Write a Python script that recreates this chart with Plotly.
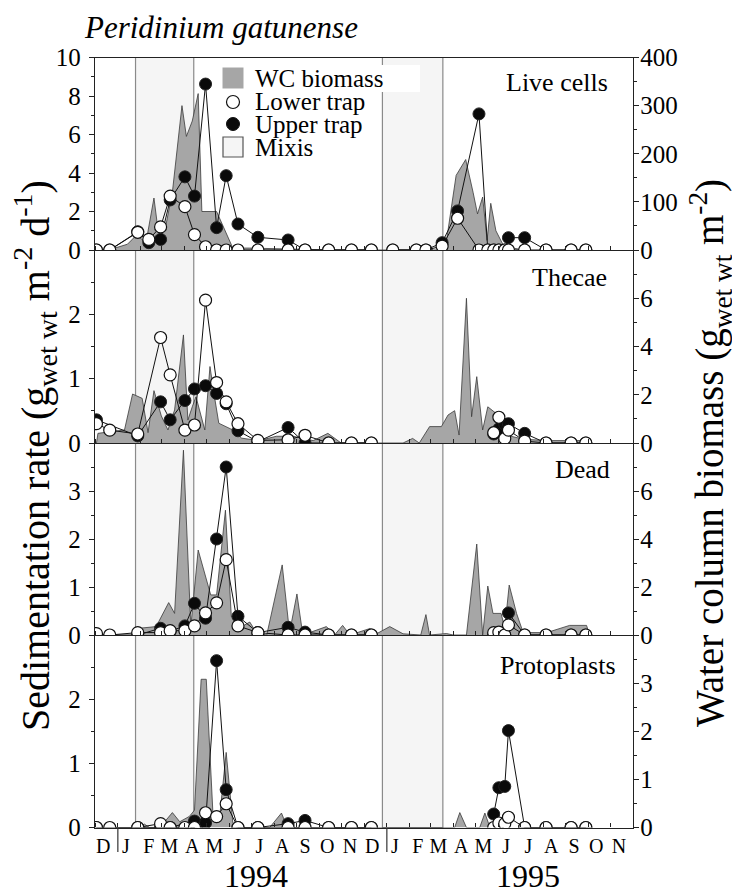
import plotly.graph_objects as go

FONT = "Liberation Serif, Times New Roman, Times, serif"

# ---------------- data ----------------
trap_dates = [
    "1993-12-03", "1993-12-21", "1994-01-28", "1994-02-12", "1994-02-28", "1994-03-13",
    "1994-04-02", "1994-04-15", "1994-04-30", "1994-05-15", "1994-05-28", "1994-06-13",
    "1994-07-10", "1994-08-20", "1994-09-12", "1994-10-14", "1994-11-14", "1994-12-11",
    "1995-01-09", "1995-02-10", "1995-02-23", "1995-03-17", "1995-04-07", "1995-05-06",
    "1995-05-18", "1995-05-26", "1995-06-02", "1995-06-10", "1995-06-15", "1995-07-07",
    "1995-08-05", "1995-09-08", "1995-09-28",
]
N = None
# Live cells (sedimentation rate)
live_lower = [0, 0, 0.92, 0.55, 1.2, 2.8, 2.25, 0.8, 0.17, 0, 0, 0, 0, 0, 0, 0, 0, 0,
              0, 0, 0, 0.2, 1.65, 0, 0, 0, 0, 0, 0, 0, 0, 0, 0]
live_upper = [0, 0, 0.95, 0.38, 0.55, 2.6, 3.8, 2.8, 8.62, 1.16, 3.86, 1.35, 0.66, 0.52, 0, 0, 0, 0,
              0, 0, 0, 0.38, 2.03, 7.07, 0, 0, 0, 0, 0.64, 0.64, 0, 0, 0]
# Thecae
thecae_lower = [0.30, 0.20, 0.14, N, 1.64, 1.06, 0.20, 0.28, 2.22, 0.94, 0.64, 0.30, 0.04, 0.05, 0.12, 0, 0, 0,
                N, N, N, N, N, N, N, 0.16, 0.40, 0.07, 0.20, 0.03, 0, 0, 0]
thecae_upper = [0.36, N, 0.11, N, 0.64, 0.36, 0.66, 0.84, 0.89, 0.77, 0.61, 0.19, 0.02, 0.24, 0, 0, 0, 0,
                N, N, N, N, N, N, N, 0.14, 0.22, 0.29, 0.30, 0.15, 0, 0, 0]
# Dead
dead_lower = [0.03, 0, 0.05, N, 0.05, 0.09, 0.09, 0.19, 0.46, 0.67, 1.57, 0.19, 0.05, 0, 0, 0, 0, 0,
              N, N, N, N, N, N, N, 0.05, 0.06, 0, 0.21, 0, 0, 0, 0]
dead_upper = [0, N, 0, N, 0.14, 0.08, 0.19, 0.66, 0.35, 2.0, 3.5, 0.39, 0.05, 0.16, 0.06, 0, 0, 0,
              N, N, N, N, N, N, N, 0, 0, 0, 0.46, 0, 0, 0, 0]
# Protoplasts
proto_lower = [0, 0, 0, N, 0.06, 0, 0, 0, 0.23, 0.17, 0.37, 0, 0, 0, 0, 0, 0, 0,
               N, N, N, N, N, N, N, 0, 0.07, 0.06, 0.16, 0, 0, 0, 0]
proto_upper = [0, N, 0, N, 0, 0, N, 0.10, 0.07, 2.6, 0.59, 0, 0, 0.06, 0.11, 0, 0, 0,
               N, N, N, N, N, N, N, 0.21, 0.62, 0.64, 1.51, 0, 0, 0, 0]
N_1994 = 18  # the first 18 sampling dates belong to the 1994 season

# Water column biomass (right axis)
live_bio_dates = ["1993-12-03", "1993-12-28", "1994-01-14", "1994-01-27", "1994-02-08", "1994-02-19",
                  "1994-02-25", "1994-03-07", "1994-03-16", "1994-03-29", "1994-04-04", "1994-04-12",
                  "1994-04-20", "1994-04-25", "1994-05-15", "1994-06-06", "1994-06-29", "1994-07-26",
                  "1994-09-05", "1994-10-16", "1995-03-14", "1995-03-23", "1995-04-05", "1995-04-18",
                  "1995-04-28", "1995-05-04", "1995-05-11", "1995-05-17", "1995-05-22", "1995-05-29",
                  "1995-06-08", "1995-06-17", "1995-07-07"]
live_bio = [0, 4, 12, 32, 14, 108, 36, 50, 120, 300, 236, 268, 325, 80, 80, 4, 4, 3, 3, 0,
            0, 20, 155, 188, 120, 75, 110, 20, 97, 40, 10, 5, 0]

thecae_bio_dates = ["1993-12-03", "1993-12-05", "1994-01-10", "1994-01-21", "1994-02-03", "1994-02-11",
                    "1994-02-19", "1994-03-01", "1994-03-10", "1994-03-19", "1994-03-31", "1994-04-06",
                    "1994-04-12", "1994-04-17", "1994-04-29", "1994-05-06", "1994-05-11", "1994-05-18",
                    "1994-06-06", "1994-06-18", "1994-07-12", "1994-08-04", "1994-08-27", "1994-09-23",
                    "1994-10-13", "1994-10-31", "1995-01-23", "1995-01-30", "1995-02-05", "1995-02-14",
                    "1995-02-28", "1995-03-16", "1995-03-25", "1995-04-03", "1995-04-09", "1995-04-19",
                    "1995-04-26", "1995-05-03", "1995-05-11", "1995-05-18", "1995-06-01", "1995-06-08",
                    "1995-06-17", "1995-07-05", "1995-08-06", "1995-09-08", "1995-09-29", "1995-10-03"]
thecae_bio = [0, 0.4, 0.54, 2.03, 1.85, 0.43, 2.17, 1.12, 0.54, 1.37, 4.48, 0.95, 1.5, 1.92, 0.54,
              3.17, 2.13, 0.82, 0.54, 0.2, 0.1, 0.28, 0.28, 0.1, 0.4, 0, 0, 0.12, 0.19, 0, 0.68, 0.68,
              1.16, 1.34, 0.33, 6.0, 1.09, 2.75, 0.54, 1.5, 1.16, 0.68, 0.29, 0.16, 0.1, 0.1, 0.1, 0]

dead_bio_dates = ["1994-01-24", "1994-01-26", "1994-02-02", "1994-02-22", "1994-03-11", "1994-03-19",
                  "1994-03-31", "1994-04-10", "1994-04-20", "1994-05-01", "1994-05-07", "1994-05-15",
                  "1994-05-27", "1994-06-04", "1994-06-18", "1994-06-29", "1994-07-08", "1994-07-22",
                  "1994-08-12", "1994-08-22", "1994-09-01", "1994-09-09", "1994-10-11", "1994-10-22",
                  "1994-11-02", "1994-11-12", "1994-12-09", "1994-12-18", "1995-01-05", "1995-01-23",
                  "1995-02-16", "1995-02-23", "1995-02-28", "1995-03-23", "1995-04-01", "1995-04-19",
                  "1995-05-03", "1995-05-11", "1995-05-18", "1995-05-25", "1995-06-05", "1995-06-10",
                  "1995-06-16", "1995-06-26", "1995-07-05", "1995-08-06", "1995-09-06", "1995-09-29",
                  "1995-10-03"]
dead_bio = [0, 0.1, 0.29, 0.35, 1.35, 0.9, 7.7, 0.35, 3.54, 2.29, 1.67, 1.67, 5.2, 0.76, 0.35, 0.54,
            0.1, 0, 2.92, 0.1, 1.71, 0, 0.35, 0, 0.4, 0, 0.27, 0.05, 0.35, 0.05, 0, 0.85, 0, 0.06, 0,
            0, 3.79, 0, 2.04, 0.9, 0.9, 0.29, 2.08, 0.9, 0.1, 0.1, 0.4, 0.4, 0]

proto_bio_dates = ["1994-01-28", "1994-02-06", "1994-02-13", "1994-02-27", "1994-03-16", "1994-03-26",
                   "1994-04-08", "1994-04-15", "1994-04-24", "1994-05-01", "1994-05-10", "1994-05-19",
                   "1994-05-28", "1994-06-06", "1994-06-11", "1994-07-26", "1994-08-11", "1994-08-19",
                   "1995-04-03", "1995-04-10", "1995-04-19", "1995-05-07", "1995-05-14", "1995-05-21"]
proto_bio = [0, 0.07, 0, 0, 0.31, 0.12, 0.23, 0.36, 3.08, 3.08, 0.3, 0.2, 1.56, 0.1, 0, 0, 0.3, 0,
             0, 0.31, 0, 0, 0.3, 0]

panel_names = ["Live cells", "Thecae", "Dead", "Protoplasts"]
legend_names = ["WC biomass", "Lower trap", "Upper trap", "Mixis"]
mixis_start = ["1994-01-25", "1994-12-26"]
mixis_end = ["1994-04-14", "1995-03-18"]
year_starts = ["1994-01-01", "1995-01-01"]
year_labels = ["1994", "1995"]
year_label_dates = ["1994-07-08", "1995-07-12"]
month_letters = ["D", "J", "F", "M", "A", "M", "J", "J", "A", "S", "O", "N",
                 "D", "J", "F", "M", "A", "M", "J", "J", "A", "S", "O", "N"]
month_label_dates = ["1993-12-12"] + [f"1994-{m:02d}-12" for m in range(1, 13)] + \
                    [f"1995-{m:02d}-12" for m in range(1, 12)]

left_ranges = [[0, 10], [0, 3], [0, 4], [0, 3]]
left_ticks = [[0, 2, 4, 6, 8, 10], [0, 1, 2], [0, 1, 2, 3], [0, 1, 2]]
left_minor = [[1, 3, 5, 7, 9], [0.5, 1.5, 2.5], [0.5, 1.5, 2.5, 3.5], [0.5, 1.5, 2.5]]
right_ranges = [[0, 400], [0, 8], [0, 8], [0, 4]]
right_ticks = [[0, 100, 200, 300, 400], [0, 2, 4, 6], [0, 2, 4, 6], [0, 1, 2, 3]]
right_minor = [[50, 150, 250, 350], [1, 3, 5, 7], [1, 3, 5, 7], [0.5, 1.5, 2.5, 3.5]]

bio_x = [live_bio_dates, thecae_bio_dates, dead_bio_dates, proto_bio_dates]
bio_y = [live_bio, thecae_bio, dead_bio, proto_bio]
lower_y = [live_lower, thecae_lower, dead_lower, proto_lower]
upper_y = [live_upper, thecae_upper, dead_upper, proto_upper]

# ---------------- geometry (page pixels; the page body adds an 8px offset) ----------------
OFF = 8
W, H = 740 - OFF, 894 - OFF


def px(x):
    return (x - OFF) / W


def py(y):
    return 1 - (y - OFF) / H


xdom = [px(95), px(633)]
pix = [57.5, 250, 443, 635, 827.5]
ydoms = [[py(pix[i + 1]), py(pix[i])] for i in range(4)]

AX = "#222222"
fig = go.Figure()

for i in range(4):
    k = i + 1
    xa = "x" if k == 1 else f"x{k}"
    yb = "y" if k == 1 else f"y{k}"
    yo = f"y{k + 4}"
    fig.add_trace(go.Scatter(
        x=bio_x[i], y=bio_y[i], xaxis=xa, yaxis=yb, mode="lines",
        fill="tozeroy", fillcolor="#a6a6a6", line=dict(color="#3a3a3a", width=0.8),
        showlegend=False, name="WC biomass"))
    for seg in (slice(0, N_1994), slice(N_1994, None)):
        fig.add_trace(go.Scatter(
            x=trap_dates[seg], y=upper_y[i][seg], xaxis=xa, yaxis=yo, mode="lines+markers",
            connectgaps=True, line=dict(color="#111111", width=1),
            marker=dict(symbol="circle", size=12, color="#0a0a0a", line=dict(color="#222", width=1)),
            showlegend=False, name="Upper trap"))
    for seg in (slice(0, N_1994), slice(N_1994, None)):
        fig.add_trace(go.Scatter(
            x=trap_dates[seg], y=lower_y[i][seg], xaxis=xa, yaxis=yo, mode="lines+markers",
            connectgaps=True, line=dict(color="#111111", width=1),
            marker=dict(symbol="circle", size=12, color="white", line=dict(color="#111", width=1.2)),
            showlegend=False, name="Lower trap"))

layout = dict(
    template="none",
    width=W, height=H, margin=dict(l=0, r=0, t=0, b=0, autoexpand=False),
    paper_bgcolor="white", plot_bgcolor="rgba(0,0,0,0)",
    font=dict(family=FONT, size=24, color="black"),
    showlegend=False,
)

for i in range(4):
    k = i + 1
    xkey = "xaxis" if k == 1 else f"xaxis{k}"
    ykey = "yaxis" if k == 1 else f"yaxis{k}"
    okey = f"yaxis{k + 4}"
    xa = dict(domain=xdom, type="date", range=["1993-12-01", "1995-12-01"],
              anchor="y" if k == 1 else f"y{k}", automargin=False,
              showline=True, linecolor=AX, linewidth=1.3, showgrid=False, zeroline=False,
              ticks="", minor=dict(ticks="inside", ticklen=4, dtick="M1", tick0="1993-12-01",
                                   tickcolor=AX, showgrid=False))
    if k != 1:
        xa["matches"] = "x"
    if k == 1:
        xa["mirror"] = True
    if k == 4:
        xa.update(tickmode="array", tickvals=month_label_dates, ticktext=month_letters,
                  showticklabels=True, tickfont=dict(family=FONT, size=20, color="black"))
    else:
        xa["showticklabels"] = False
    layout[xkey] = xa
    layout[ykey] = dict(domain=ydoms[i], anchor="x" if k == 1 else f"x{k}", side="right",
                        automargin=False,
                        range=right_ranges[i], tickmode="array", tickvals=right_ticks[i],
                        ticks="outside", ticklen=5, tickcolor=AX, showline=True,
                        linecolor=AX, linewidth=1.3, showgrid=False, zeroline=False,
                        ticklabelstandoff=-4,
                        tickfont=dict(family=FONT, size=25, color="black"),
                        minor=dict(tickvals=right_minor[i], ticks="outside", ticklen=3,
                                   tickcolor=AX, showgrid=False))
    layout[okey] = dict(overlaying="y" if k == 1 else f"y{k}", anchor="x" if k == 1 else f"x{k}",
                        side="left", automargin=False,
                        range=left_ranges[i], tickmode="array",
                        tickvals=left_ticks[i], ticks="outside", ticklen=5, tickcolor=AX,
                        showline=True, linecolor=AX, linewidth=1.3, showgrid=False,
                        zeroline=False, ticklabelstandoff=3,
                        tickfont=dict(family=FONT, size=25, color="black"),
                        minor=dict(tickvals=left_minor[i], ticks="outside", ticklen=3,
                                   tickcolor=AX, showgrid=False))

fig.update_layout(**layout)

# mixis periods
for s, e in zip(mixis_start, mixis_end):
    fig.add_shape(type="rect", xref="x", yref="paper", x0=s, x1=e,
                  y0=ydoms[3][0], y1=ydoms[0][1], fillcolor="#f5f5f5",
                  line=dict(color="#8a8a8a", width=1.2), layer="below")
# year boundary marks below the month axis
for d in year_starts:
    fig.add_shape(type="line", xref="x4", yref="paper", x0=d, x1=d,
                  y0=py(828), y1=py(852), line=dict(color="#333", width=1.2))

# legend (drawn in the upper panel)
fig.add_shape(type="rect", xref="paper", yref="paper", x0=px(250), x1=px(420),
              y0=py(92), y1=py(65), fillcolor="white", line=dict(width=0), layer="below")
leg_rows = [78, 102, 124, 147]
leg_x = 233
fig.add_shape(type="rect", xref="paper", yref="paper", x0=px(leg_x - 10.5), x1=px(leg_x + 10.5),
              y0=py(leg_rows[0] + 10.5), y1=py(leg_rows[0] - 10.5), fillcolor="#a6a6a6",
              line=dict(width=0))
fig.add_shape(type="circle", xref="paper", yref="paper", x0=px(leg_x - 6.5), x1=px(leg_x + 6.5),
              y0=py(leg_rows[1] + 6.5), y1=py(leg_rows[1] - 6.5), fillcolor="white",
              line=dict(color="#111", width=1.2))
fig.add_shape(type="circle", xref="paper", yref="paper", x0=px(leg_x - 6.5), x1=px(leg_x + 6.5),
              y0=py(leg_rows[2] + 6.5), y1=py(leg_rows[2] - 6.5), fillcolor="#0a0a0a",
              line=dict(color="#111", width=1))
fig.add_shape(type="rect", xref="paper", yref="paper", x0=px(leg_x - 10), x1=px(leg_x + 10),
              y0=py(leg_rows[3] + 10), y1=py(leg_rows[3] - 10), fillcolor="#f5f5f5",
              line=dict(color="#555", width=1.2))
for name, yy in zip(legend_names, leg_rows):
    fig.add_annotation(text=name, xref="paper", yref="paper", x=px(253), y=py(yy),
                       xanchor="left", yanchor="middle", showarrow=False,
                       font=dict(family=FONT, size=25, color="black"))

# panel labels
label_right = [610, 609, 612, 618]
label_y = [83, 277, 469, 665]
for name, xr, yy in zip(panel_names, label_right, label_y):
    fig.add_annotation(text=name, xref="paper", yref="paper", x=px(xr), y=py(yy),
                       xanchor="right", yanchor="middle", showarrow=False,
                       font=dict(family=FONT, size=26, color="black"))

# year labels
for lab, d in zip(year_labels, year_label_dates):
    fig.add_annotation(text=lab, xref="x4", yref="paper", x=d, y=py(876),
                       xanchor="center", yanchor="middle", showarrow=False,
                       font=dict(family=FONT, size=32, color="black"))

# title
fig.add_annotation(text="<i>Peridinium gatunense</i>", xref="paper", yref="paper",
                   x=px(82), y=py(27), xanchor="left", yanchor="middle", showarrow=False,
                   font=dict(family=FONT, size=31, color="black"))

# axis titles
fig.add_annotation(text="Sedimentation rate (g<sub>wet wt</sub> m<sup>-2</sup> d<sup>-1</sup>)",
                   xref="paper", yref="paper", x=px(35), y=py(456), textangle=-90,
                   xanchor="center", yanchor="middle", showarrow=False,
                   font=dict(family=FONT, size=40, color="black"))
fig.add_annotation(text="Water column biomass (g<sub>wet wt</sub> m<sup>-2</sup>)",
                   xref="paper", yref="paper", x=px(711), y=py(453), textangle=-90,
                   xanchor="center", yanchor="middle", showarrow=False,
                   font=dict(family=FONT, size=39, color="black"))

fig.write_html("out.html")
